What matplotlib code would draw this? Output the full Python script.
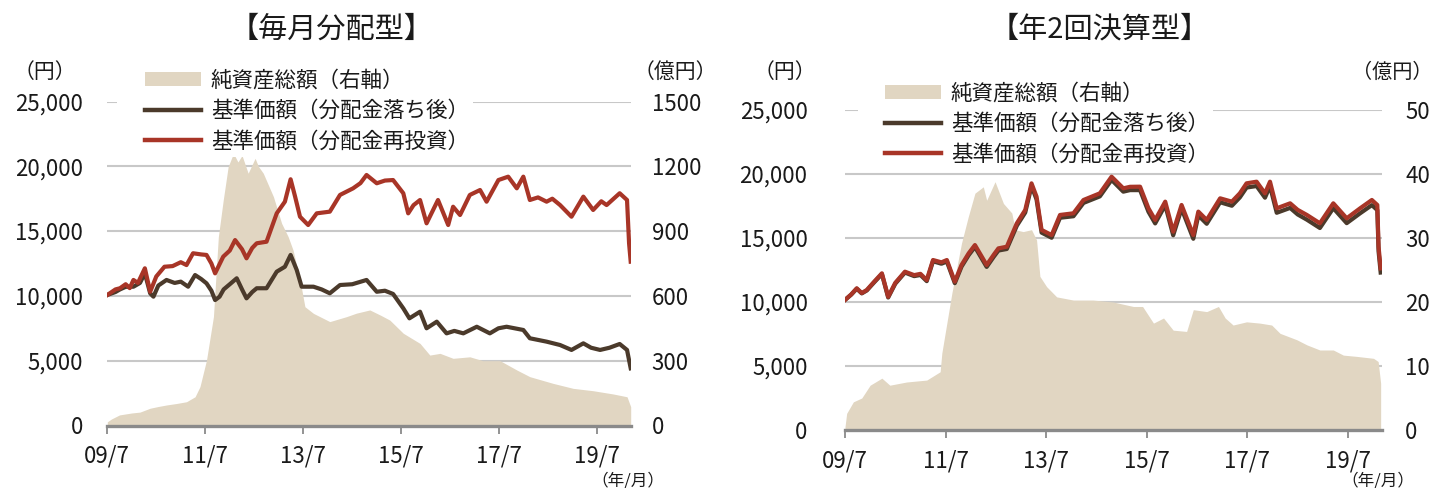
import matplotlib
matplotlib.use("Agg")
import matplotlib.pyplot as plt
from matplotlib.patches import Patch, Rectangle
from matplotlib.lines import Line2D

plt.rcParams['font.family'] = ['Noto Sans CJK JP', 'DejaVu Sans']

# ---------------- data ----------------
xtick_labels = ['09/7', '11/7', '13/7', '15/7', '17/7', '19/7']
xtick_months = [0, 24, 48, 72, 96, 120]

legend_labels = ['純資産総額（右軸）', '基準価額（分配金落ち後）', '基準価額（分配金再投資）']

# Left panel: 毎月分配型 (months since 2009/7)
months_a_red = [0, 2, 3.1, 4.5, 5.5, 6.4, 7.5, 9.2, 10.5, 12, 14, 16, 18, 19.4, 21, 23, 24.3, 25.5, 26.4, 28.4,
                30, 31.3, 33, 34.1, 35.5, 36.6, 39, 41.5, 43.5, 44.9, 46, 47.2, 49.2, 51.3, 54.5, 57, 60.2, 62,
                63.5, 66, 68, 70, 72.5, 73.7, 75, 76.6, 78.2, 81, 83.5, 84.7, 86.4, 88.8, 91.3, 92.9, 95.8, 98.2,
                100.3, 101.9, 103.5, 105.5, 107.6, 109, 110.9, 113.7, 116.6, 119, 121, 122.3, 125.5, 127.3,
                127.8, 128.2]
red_a = [10070, 10500, 10590, 10900, 10600, 11230, 11000, 12130, 10320, 11500, 12250, 12300, 12600, 12380,
         13290, 13200, 13160, 12500, 11740, 13030, 13500, 14310, 13600, 12900, 13700, 14060, 14180, 16370,
         17270, 19000, 17660, 16110, 15470, 16370, 16500, 17790, 18300, 18700, 19330, 18690, 18900, 18940,
         17920, 16370, 17000, 17400, 15600, 17400, 15470, 16880, 16240, 17790, 18170, 17270, 18940, 19200,
         18300, 19200, 17400, 17600, 17270, 17500, 17010, 16110, 17660, 16630, 17300, 17010, 17920, 17400,
         14060, 12640]

months_a_brown = [0, 2, 3.1, 4.5, 6.4, 8, 9.2, 10.5, 11.3, 12.5, 14.5, 16.5, 18, 19.8, 21.5, 23, 24.3, 25.5,
                  26.4, 27.5, 28.5, 30, 31.7, 33, 34.1, 35.5, 36.6, 39, 41.5, 43.5, 44.9, 46.4, 47.6, 50.5, 52.5,
                  54.5, 57, 60, 63.5, 66, 68, 70, 72.5, 74, 76.6, 78.2, 80.7, 83.1, 85, 87.2, 90.5, 93.7, 95.8,
                  97.8, 101.9, 103.5, 107.6, 110.9, 113.7, 116.6, 118.5, 120.7, 123, 125.5, 127.3, 128.2]
brown_a = [10070, 10300, 10500, 10700, 10710, 11000, 11740, 10200, 9940, 10800, 11230, 11000, 11100, 10710,
           11610, 11300, 10970, 10400, 9680, 9940, 10500, 10900, 11360, 10500, 9810, 10300, 10590, 10590,
           11870, 12250, 13160, 12000, 10710, 10710, 10500, 10200, 10840, 10900, 11230, 10320, 10400, 10150,
           9040, 8270, 8780, 7500, 8010, 7110, 7300, 7110, 7620, 7110, 7500, 7620, 7370, 6730, 6470, 6210,
           5830, 6340, 6000, 5830, 6000, 6290, 5830, 4410]

months_a_area = [0, 1, 3, 6, 8, 10.5, 12.5, 14.5, 17, 19.4, 21.5, 22.7, 24.3, 26, 27.2, 28.4, 29.6, 30.9, 32,
                 33, 34.5, 36.2, 37, 38.2, 40.7, 42.7, 44.3, 45.5, 47.2, 48.4, 50.5, 54.5, 58.6, 61, 64.3, 67,
                 69.2, 72.5, 76.6, 79, 81.5, 84.7, 88.8, 92, 96.2, 100.3, 103.5, 109.2, 114.1, 119, 123.9,
                 127.3, 128.2]
area_a = [17, 30, 49, 58, 62, 80, 88, 95, 102, 110, 133, 180, 303, 504, 874, 1044, 1198, 1260, 1220, 1250,
          1168, 1237, 1200, 1168, 1059, 936, 874, 812, 674, 550, 519, 481, 504, 520, 535, 510, 488, 427, 380,
          326, 334, 311, 318, 300, 300, 257, 226, 195, 172, 161, 146, 133, 87]

# Right panel: 年2回決算型
months_b_line = [0, 1.5, 2.8, 4, 5.2, 7, 8.8, 10.3, 12, 14.3, 16.5, 18, 19.5, 21, 23, 24.3, 26.2, 27.8, 29.5,
                 31, 33.8, 35.5, 36.6, 38.6, 41, 43, 44.5, 45.7, 46.9, 49.3, 51.3, 54.5, 56.9, 60.8, 63.6,
                 66.4, 68, 70.4, 72.4, 74, 76.4, 78.3, 80.3, 83.1, 84.3, 86.3, 89.5, 92.3, 94.2, 95.8, 98.2,
                 100.2, 101.4, 103, 106.2, 108, 110.2, 113.3, 116.5, 119.7, 122.9, 125.7, 127, 127.3, 127.8]
red_b = [10160, 10600, 11070, 10700, 10940, 11600, 12240, 10410, 11500, 12370, 12100, 12200, 11720, 13280,
         13100, 13280, 11590, 12890, 13800, 14450, 12890, 13700, 14190, 14320, 16150, 17190, 19270, 18230,
         15630, 15230, 16800, 16930, 17970, 18490, 19790, 18880, 19000, 19010, 17320, 16410, 17840, 15490,
         17580, 15230, 17060, 16410, 18100, 17840, 18490, 19270, 19400, 18490, 19400, 17320, 17710, 17200,
         16800, 16150, 17710, 16540, 17320, 17970, 17580, 14320, 12630]
brown_b = [10160, 10580, 11040, 10670, 10900, 11550, 12180, 10350, 11430, 12300, 12020, 12110, 11630, 13180,
           12990, 13160, 11470, 12760, 13660, 14300, 12740, 13540, 14020, 14140, 15960, 16990, 19060, 18010,
           15420, 15020, 16580, 16700, 17740, 18250, 19540, 18620, 18740, 18740, 17050, 16140, 17560, 15210,
           17290, 14940, 16760, 16110, 17790, 17520, 18170, 18940, 19060, 18150, 19050, 16970, 17350, 16840,
           16430, 15780, 17330, 16160, 16930, 17570, 17180, 13950, 12300]

months_b_area = [0, 0.4, 2, 4, 6, 8.8, 10.7, 14.7, 19.5, 22.7, 23.1, 24.3, 25.5, 27.8, 29.4, 31, 33, 33.8,
                 35.8, 37.8, 39.8, 40.6, 42.5, 44.5, 45.7, 46.5, 48.1, 50.5, 54.5, 59.2, 64, 68.8, 71, 73.6,
                 76, 78.3, 81.5, 83.1, 86.3, 89.1, 90.7, 92.6, 95.8, 99, 101.8, 103.8, 107.8, 110.2, 113.3,
                 116.5, 118.9, 122.1, 126.1, 127.2, 127.8]
area_b = [0.5, 2.6, 4.4, 5, 7, 8.1, 7, 7.5, 7.8, 9.1, 12, 16.7, 21.4, 29.2, 33.3, 37, 38, 35.9, 38.8, 35.4,
          33.9, 31.3, 31, 31.3, 29.7, 24, 22.4, 20.8, 20.3, 20.3, 20, 19.3, 19.3, 16.7, 17.5, 15.6, 15.4, 18.8,
          18.5, 19.3, 17.5, 16.4, 16.9, 16.7, 16.4, 15.1, 14.1, 13.3, 12.5, 12.5, 11.7, 11.5, 11.2, 10.7, 7.3]

# ---------------- style ----------------
C_AREA = '#e1d6c2'
C_BROWN = '#4b3a2b'
C_RED = '#a83527'
C_GRID = '#c8c8c8'
C_AXIS = '#8a8a8a'
C_TEXT = '#1a1a1a'

W, H = 1438, 488
fig = plt.figure(figsize=(W / 100, H / 100), dpi=100)


def px_rect(left, top, right, bottom):
    return [left / W, 1 - bottom / H, (right - left) / W, (bottom - top) / H]


def draw_panel(rect, xmax, m_red, v_red, m_brown, v_brown, m_area, v_area,
               rmax, rstep, left_pad, right_pad, legend_xy, mask_px):
    ax = fig.add_axes(rect)
    ax2 = ax.twinx()
    ax.set_zorder(ax2.get_zorder() + 1)
    ax.patch.set_visible(False)

    ax2.fill_between(m_area, 0, v_area, color=C_AREA, lw=0, zorder=2)
    ax2.set_ylim(0, rmax)
    ax2.set_yticks(list(range(0, rmax + 1, rstep)))
    ax2.grid(axis='y', color=C_GRID, lw=1.5)
    ax2.set_axisbelow(True)
    ax2.tick_params(axis='y', length=0, pad=right_pad, labelsize=16, labelcolor=C_TEXT)
    for s in ax2.spines.values():
        s.set_visible(False)

    ax.plot(m_brown, v_brown, color=C_BROWN, lw=3.0, solid_joinstyle='round', zorder=3)
    ax.plot(m_red, v_red, color=C_RED, lw=3.0, solid_joinstyle='round', zorder=4)
    ax.set_ylim(0, 25000)
    ax.set_yticks([0, 5000, 10000, 15000, 20000, 25000])
    ax.set_yticklabels(['0', '5,000', '10,000', '15,000', '20,000', '25,000'])
    ax.tick_params(axis='y', length=0, pad=left_pad, labelsize=16, labelcolor=C_TEXT)
    ax.set_xlim(0, xmax)
    ax.set_xticks(xtick_months)
    ax.set_xticklabels(xtick_labels)
    ax.tick_params(axis='x', length=6, width=1.3, color=C_AXIS, pad=8, labelsize=16, labelcolor=C_TEXT)
    for k in ['top', 'left', 'right']:
        ax.spines[k].set_visible(False)
    ax.spines['bottom'].set_color(C_AXIS)
    ax.spines['bottom'].set_linewidth(2.4)

    # white margin to the left of the legend box (legend background extends there)
    x0, y0, x1, y1 = mask_px
    ax.add_patch(Rectangle((x0 / W, 1 - y1 / H), (x1 - x0) / W, (y1 - y0) / H,
                           transform=fig.transFigure, facecolor='white', edgecolor='none',
                           zorder=4.5, clip_on=False))

    handles = [Patch(facecolor=C_AREA, edgecolor='none'),
               Line2D([], [], color=C_BROWN, lw=3.2),
               Line2D([], [], color=C_RED, lw=3.2)]
    leg = ax.legend(handles, legend_labels, loc='upper left',
                    bbox_to_anchor=(legend_xy[0] / W, 1 - legend_xy[1] / H),
                    bbox_transform=fig.transFigure, frameon=True, fancybox=False,
                    facecolor='white', edgecolor='none', framealpha=1,
                    fontsize=15.5, handlelength=2.6, handleheight=0.6, handletextpad=0.45,
                    labelspacing=0.4, borderpad=0.2, borderaxespad=0)
    for t in leg.get_texts():
        t.set_color(C_TEXT)
    return ax, ax2


draw_panel(px_rect(107.3, 101.5, 630.7, 425.5), 128.2, months_a_red, red_a, months_a_brown, brown_a,
           months_a_area, area_a, 1500, 300, 17.5, 15, (141, 65), (117, 90, 142, 118))
draw_panel(px_rect(845, 110, 1381.5, 430), 128.0, months_b_line, red_b, months_b_line, brown_b,
           months_b_area, area_b, 50, 10, 27, 17, (881, 78), (858, 100, 882, 125))

# titles and unit labels
fig.text(332 / W, 1 - 30 / H, '【毎月分配型】', fontsize=21, ha='center', va='center', color=C_TEXT)
fig.text(1100 / W, 1 - 30 / H, '【年2回決算型】', fontsize=21, ha='center', va='center', color=C_TEXT)
for (x, y, s) in [(45, 72, '（円）'), (675, 72, '（億円）'), (785, 72, '（円）')]:
    fig.text(x / W, 1 - y / H, s, fontsize=15, ha='center', va='center', color=C_TEXT)
fig.text(1433 / W, 1 - 72 / H, '（億円）', fontsize=14.5, ha='right', va='center', color=C_TEXT)
for (x, y, s) in [(628, 481, '（年/月）'), (1378, 481, '（年/月）')]:
    fig.text(x / W, 1 - y / H, s, fontsize=12, ha='center', va='center', color=C_TEXT)

fig.savefig('out.png', dpi=100, facecolor='white')
